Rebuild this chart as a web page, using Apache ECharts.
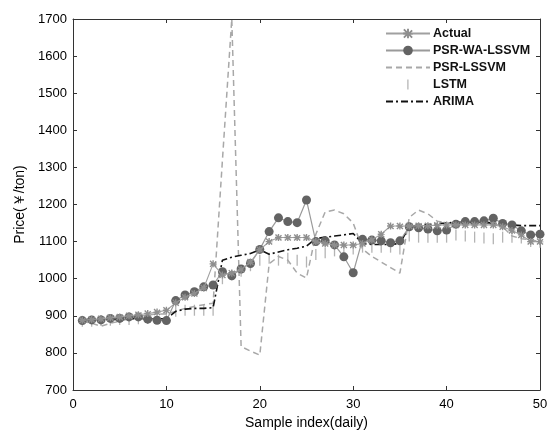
<!DOCTYPE html>
<html>
<head>
<meta charset="utf-8">
<script src="https://cdn.jsdelivr.net/npm/echarts@6/dist/echarts.min.js"></script>
<style>
  html,body{margin:0;padding:0;background:#fff;}
  #main{width:554px;height:437px;}
</style>
</head>
<body>
<div id="main"></div>
<script>
// sample index 1..50
var sampleIdx = [];
for (var i = 1; i <= 50; i++) sampleIdx.push(i);

var actual = [888,890,892,895,897,900,903,906,910,915,
  935,950,960,975,1040, 1010,1015,1025,1045,1078,
  1100,1111,1111,1111,1111, 1100,1095,1091,1091,1091,
  1095,1105,1120,1142,1142, 1142,1143,1143,1144,1145,
  1145,1145,1145,1145,1145, 1140,1130,1118,1100,1100];

var psrWaLssvm = [887,889,889,893,893,897,897,891,888,887,
  941,956,965,978,983, 1019,1008,1026,1041,1079,
  1127,1164,1154,1151,1212, 1100,1102,1091,1059,1016,
  1106,1104,1102,1097,1102, 1140,1137,1134,1129,1131,
  1147,1154,1154,1156,1163, 1149,1145,1129,1118,1120];

var psrLssvm = [885,880,872,880,885,892,898,902,905,905,
  912,920,925,930,934, 1320,1700,817,805,794,
  1040,1060,1050,1015,1002, 1120,1180,1185,1175,1150,
  1080,1060,1045,1030,1015, 1165,1185,1175,1155,1150,
  1150,1150,1150,1150,1150, 1140,1115,1108,1105,1100];

var lstm = [885,885,887,888,890,890,892,893,895,895,
  912,915,915,915,915, 1000,1010,1020,1035,1050,
  1055,1050,1055,1050,1045, 1065,1070,1075,1080,1080,
  1085,1085,1085,1085,1080, 1115,1112,1112,1112,1112,
  1118,1115,1112,1110,1108, 1112,1112,1110,1100,1098];

var arima = [890,890,890,890,890,892,892,892,892,892,
  912,918,920,920,922, 1050,1058,1063,1068,1078,
  1066,1072,1078,1082,1088, 1108,1112,1115,1118,1122,
  1095,1092,1092,1092,1095, 1140,1145,1146,1148,1150,
  1152,1152,1152,1152,1150, 1145,1145,1143,1143,1143];

function pairs(vals){
  return sampleIdx.map(function(x,k){return [x, vals[k]]})
}

var fontFam = '"Liberation Sans", Arial, sans-serif'
var starPath = 'path://M4,0H6V3.6L8.6,1L10,2.4L7.4,5H10V5H10V6H7.4L10,8.6L8.6,10L6,7.4V10H4V7.4L1.4,10L0,8.6L2.6,6H0V4H2.6L0,1.4L1.4,0L4,2.6Z'
// thin vertical tick in the middle of a 44x12 box (tiny dots at the ends keep the box size)
var tickIcon = 'path://M0,6h0.01v0.01h-0.01z M21.3,1h1.2v10h-1.2z M43.99,6h0.01v0.01h-0.01z'

var myChart = echarts.init(document.getElementById('main'))
var boxAxisX = {
  type:'value', min:0, max:50, interval:10,
  axisLine:{show:true, onZero:false, lineStyle:{color:'#333', width:1}},
  axisTick:{show:true, inside:true, length:4, lineStyle:{color:'#333'}},
  splitLine:{show:false}
}
var boxAxisY = {
  type:'value', min:700, max:1700, interval:100,
  axisLine:{show:true, onZero:false, lineStyle:{color:'#333', width:1}},
  axisTick:{show:true, inside:true, length:4, lineStyle:{color:'#333'}},
  splitLine:{show:false}
}

myChart.setOption({
  animation:false,
  backgroundColor:'#fff',
  textStyle:{fontFamily:fontFam},
  grid:{left:73, right:14, top:19, bottom:47},
  legend:{
    orient:'vertical', left:380, top:22, itemGap:4,
    itemWidth:44, itemHeight:12,
    textStyle:{fontSize:12.5, fontWeight:'bold', color:'#111', fontFamily:fontFam, padding:[0,0,0,-2]},
    data:[
      {name:'Actual'},
      {name:'PSR-WA-LSSVM'},
      {name:'PSR-LSSVM', itemStyle:{opacity:0}},
      {name:'LSTM', icon:tickIcon, itemStyle:{color:'#b0b0b0'}},
      {name:'ARIMA', itemStyle:{opacity:0}}
    ]
  },
  xAxis:[
    Object.assign({}, boxAxisX, {
      position:'bottom',
      name:'Sample index(daily)', nameLocation:'middle', nameGap:24,
      nameTextStyle:{fontSize:14, color:'#000'},
      axisLabel:{fontSize:13, color:'#000', margin:8}
    }),
    Object.assign({}, boxAxisX, {position:'top', axisLabel:{show:false}})
  ],
  yAxis:[
    Object.assign({}, boxAxisY, {
      position:'left',
      name:'Price(￥/ton)', nameLocation:'middle', nameGap:40,
      nameTextStyle:{fontSize:14, color:'#000'},
      axisLabel:{fontSize:13, color:'#000', margin:6, formatter:function(v){return String(v)}}
    }),
    Object.assign({}, boxAxisY, {position:'right', axisLabel:{show:false}})
  ],
  series:[
    {
      name:'LSTM', type:'line', data:pairs(lstm),
      symbol:'rect', symbolSize:[1.3,11],
      itemStyle:{color:'#b4b4b4'},
      lineStyle:{opacity:0}, z:1
    },
    {
      name:'PSR-LSSVM', type:'line', data:pairs(psrLssvm),
      symbol:'none',
      itemStyle:{color:'#a8a8a8'},
      lineStyle:{color:'#a8a8a8', width:1.5, type:[6,4]}, z:2
    },
    {
      name:'ARIMA', type:'line', data:pairs(arima),
      symbol:'none',
      itemStyle:{color:'#111'},
      lineStyle:{color:'#111', width:1.6, type:[7,3,2,3]}, z:3
    },
    {
      name:'PSR-WA-LSSVM', type:'line', data:pairs(psrWaLssvm),
      symbol:'circle', symbolSize:9,
      itemStyle:{color:'#636363'},
      lineStyle:{color:'#9a9a9a', width:1.2}, z:4
    },
    {
      name:'Actual', type:'line', data:pairs(actual),
      symbol:starPath, symbolSize:7,
      itemStyle:{color:'#8e8e8e'},
      lineStyle:{color:'#a0a0a0', width:1.1}, z:5
    }
  ]
})
</script>
</body>
</html>
